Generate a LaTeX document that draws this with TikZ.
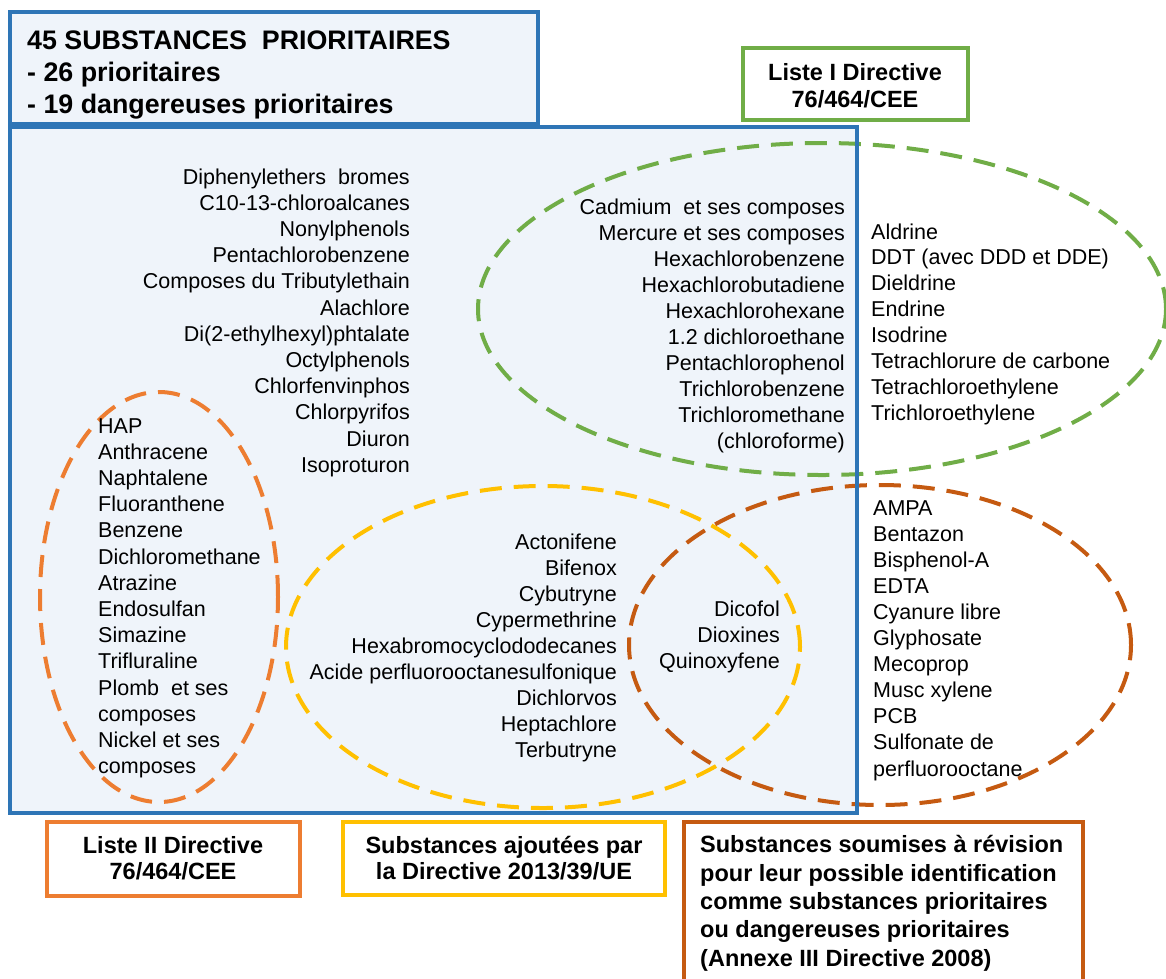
\documentclass[tikz,border=0pt]{standalone}
\usepackage{fontspec}
\setmainfont{Liberation Sans}
\usetikzlibrary{shapes.geometric}

\definecolor{bblue}{HTML}{2E75B6}
\definecolor{bfill}{HTML}{EFF4FA}
\definecolor{lgreen}{HTML}{70AD47}
\definecolor{lorange}{HTML}{ED7D31}
\definecolor{lyellow}{HTML}{FFC000}
\definecolor{ldark}{HTML}{C55A11}

\tikzset{
  frame/.style={line width=3.5pt},
  set/.style={ellipse, draw, line width=4pt, dash pattern=on 22pt off 12pt, inner sep=0pt},
  item/.style={font=\fontsize{21.5}{26}\selectfont, inner sep=0pt},
  tag/.style={font=\fontsize{23.5}{28}\selectfont\bfseries, inner sep=0pt},
  head/.style={font=\fontsize{26.8}{32}\selectfont\bfseries, inner sep=0pt, anchor=base west}
}

\begin{document}
\begin{tikzpicture}[x=1pt,y=-1pt]
\useasboundingbox (0,0) rectangle (1166,978);

% title box and the box of the 45 substances
\draw[frame, draw=bblue, fill=bfill] (10,12) rectangle (538,124);
\fill[bfill] (10,127) rectangle (857,813);

\node[head] (t1) at (27,49) {45 SUBSTANCES\ \ PRIORITAIRES};
\node[head] (t2) at (27,81) {- 26 prioritaires};
\node[head] (t3) at (27,113) {- 19 dangereuses prioritaires};

% the four lists
\node[set, draw=lgreen, minimum width=688pt, minimum height=332pt] (listI) at (822,309) {};
\node[set, draw=lorange, minimum width=238pt, minimum height=410pt] (listII) at (159,597) {};
\node[set, draw=lyellow, minimum width=514pt, minimum height=322pt] (ajout) at (543,647) {};
\node[set, draw=ldark, minimum width=502pt, minimum height=320pt] (revis) at (880,645) {};

\draw[frame, draw=bblue] (10,127) rectangle (857,813);

% legend boxes
\draw[frame, draw=lgreen, fill=white] (743,48) rectangle (968,120);
\draw[frame, draw=lorange, fill=white] (47,822) rectangle (300,896);
\draw[frame, draw=lyellow, fill=white] (343,822) rectangle (665,895);
\draw[frame, draw=ldark, fill=white] (684,822) rectangle (1083,992);

\foreach \t [count=\i] in {Liste I Directive, 76/464/CEE}
  \node[tag, anchor=base] (g\i) at (855,{53+27*\i}) {\t};
\foreach \t [count=\i] in {Liste II Directive, 76/464/CEE}
  \node[tag, anchor=base] (o\i) at (173,{827+26*\i}) {\t};
\foreach \t [count=\i] in {Substances ajoutées par, la Directive 2013/39/UE}
  \node[tag, anchor=base] (y\i) at (504,{827+26*\i}) {\t};
\foreach \t [count=\i] in {Substances soumises à révision, pour leur possible identification,
    comme substances prioritaires, ou dangereuses prioritaires, (Annexe III Directive 2008)}
  \node[tag, anchor=base west] (d\i) at (700,{824.5+28.3*\i}) {\t};

% substances
\foreach \t [count=\i] in {Diphenylethers\ \ bromes, C10-13-chloroalcanes, Nonylphenols,
    Pentachlorobenzene, Composes du Tributylethain, Alachlore, Di(2-ethylhexyl)phtalate,
    Octylphenols, Chlorfenvinphos, Chlorpyrifos, Diuron, Isoproturon}
  \node[item, anchor=base east] (p\i) at (410,{157.8+26.2*\i}) {\t};

\foreach \t [count=\i] in {Cadmium\ \ et ses composes, Mercure et ses composes, Hexachlorobenzene,
    Hexachlorobutadiene, Hexachlorohexane, 1.2 dichloroethane, Pentachlorophenol,
    Trichlorobenzene, Trichloromethane, (chloroforme)}
  \node[item, anchor=base east] (dp\i) at (845,{188+26*\i}) {\t};

\foreach \t [count=\i] in {Aldrine, DDT (avec DDD et DDE), Dieldrine, Endrine, Isodrine,
    Tetrachlorure de carbone, Tetrachloroethylene, Trichloroethylene}
  \node[item, anchor=base west] (li\i) at (871,{213.1+25.9*\i}) {\t};

\foreach \t [count=\i] in {HAP, Anthracene, Naphtalene, Fluoranthene, Benzene, Dichloromethane,
    Atrazine, Endosulfan, Simazine, Trifluraline, Plomb\ \ et ses, composes, Nickel et ses, composes}
  \node[item, anchor=base west] (lii\i) at (98,{406.8+26.2*\i}) {\t};

\foreach \t [count=\i] in {Actonifene, Bifenox, Cybutryne, Cypermethrine, Hexabromocyclododecanes,
    Acide perfluorooctanesulfonique, Dichlorvos, Heptachlore, Terbutryne}
  \node[item, anchor=base east] (a\i) at (617,{523+26*\i}) {\t};

\foreach \t [count=\i] in {Dicofol, Dioxines, Quinoxyfene}
  \node[item, anchor=base east] (ar\i) at (780,{590+26*\i}) {\t};

\foreach \t [count=\i] in {AMPA, Bentazon, Bisphenol-A, EDTA, Cyanure libre, Glyphosate,
    Mecoprop, Musc xylene, PCB, Sulfonate de, perfluorooctane}
  \node[item, anchor=base west] (r\i) at (873,{488.9+26.1*\i}) {\t};

\end{tikzpicture}
\end{document}
